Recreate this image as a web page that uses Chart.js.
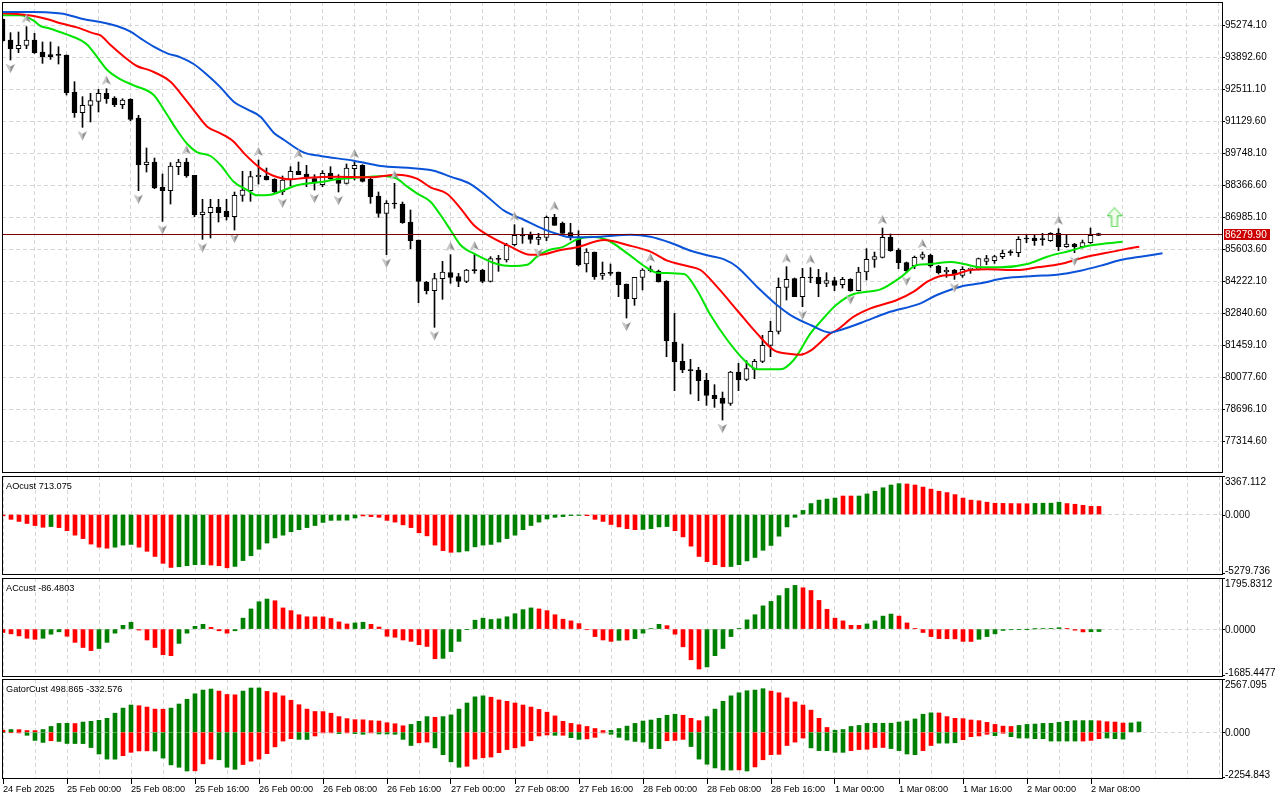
<!DOCTYPE html>
<html>
<head>
<meta charset="utf-8">
<title>BTCUSD H1 - Alligator / AO / AC / Gator</title>
<script src="https://cdn.jsdelivr.net/npm/chart.js@4.4.1/dist/chart.umd.min.js"></script>
<style>
  html, body { margin: 0; padding: 0; background: #fff; }
  #wrap { position: relative; width: 1280px; height: 800px; overflow: hidden; }
  canvas { position: absolute; left: 0; }
</style>
</head>
<body>
<div id="wrap">
  <canvas id="main" width="1280" height="474" style="top:0px"></canvas>
  <canvas id="ao" width="1280" height="102" style="top:474px"></canvas>
  <canvas id="ac" width="1280" height="102" style="top:576px"></canvas>
  <canvas id="gator" width="1280" height="122" style="top:678px"></canvas>
</div>
<script>
// ---- hourly candles, index 0 = 24 Feb 16:00 ----
const opens = [95531,94639,94265,94409,94639,94121,94006,94006,93992,92394,
  91502,91818,91991,92337,92135,91847,92077,91272,89257,89372,
  88278,88135,89170,89372,88796,87098,87185,87415,87242,87012,
  87933,88135,88739,88768,88624,88077,88595,88969,88854,88653,
  88394,88883,88653,88451,89084,89228,88624,87904,87156,87588,
  87559,86782,86005,84191,83817,84335,84594,84422,84220,84710,
  84710,84220,85199,85141,85803,86206,86206,86033,86120,86983,
  86724,86321,86033,84968,85486,84479,84594,84623,84105,83472,
  84393,84709,84652,84220,81601,80766,80392,80392,79960,79298,
  79183,78953,80306,79989,80421,80766,81457,82061,83961,84335,
  83558,84393,84393,84134,84249,84076,84306,83817,84623,85170,
  85256,86120,85573,85026,84882,85256,85342,84882,84623,84709,
  84479,84738,84738,85083,85112,85285,85501,85457,86062,86091,
  86033,85976,86292,85717,85832,85717,85889,86206];
const highs = [95574,94956,94984,95215,94927,94553,94553,94351,93992,92840,
  92193,92337,92509,92538,92193,92106,92106,91387,89976,89545,
  88854,89343,89487,89530,88796,87760,87760,87760,87760,88077,
  88969,88969,89458,89113,88652,88768,89171,89372,89228,88825,
  88998,89171,88825,89286,89372,89257,88739,88077,87703,88451,
  87645,87300,86005,84220,84566,85084,85372,84566,84738,85390,
  84738,85285,85343,85861,86667,86523,86350,86293,87040,87113,
  86782,86724,86407,85630,85486,85055,84968,84623,84105,84393,
  84767,84882,84709,84249,82838,81515,80852,80507,80248,79759,
  79442,80334,80680,80795,80852,81889,82493,84364,84853,84364,
  84780,84810,84738,84594,84393,84393,84335,84824,85630,85486,
  86522,86263,85630,85055,85314,85486,85400,84911,84824,84738,
  84853,84796,85227,85342,85342,85573,85573,86148,86206,86206,
  86292,86321,86494,86206,85860,86004,86522,86300];
const lows = [94560,93776,94092,94265,94060,93632,93804,93603,92265,91300,
  90869,91099,91531,91905,91761,91675,91156,88135,88940,88221,
  86810,87559,88825,88710,87012,86033,86091,86782,86868,86436,
  87674,87674,88422,88595,88040,87960,88336,88825,88307,88163,
  88307,88624,88077,88422,88595,88509,87588,86983,85372,87372,
  86724,85631,83299,83673,82234,83443,84134,83990,84163,84566,
  84163,84191,84652,85055,85746,85861,85861,85803,85976,86638,
  86292,86004,84882,84623,84306,84306,84479,83558,82637,83184,
  83846,84623,84191,80967,79500,80277,79356,79068,78866,78780,
  78233,78866,79500,79932,80018,80709,80967,81946,83414,83558,
  83126,84162,83558,83990,83817,83932,83788,83805,84278,84824,
  85227,85515,84767,84594,84767,85170,84824,84536,84393,84306,
  84393,84565,84709,84939,84997,85198,85342,85285,85889,85774,
  85774,85947,85544,85688,85457,85659,85860,86190];
const closes = [94610,94265,94409,94639,94092,93920,93920,93977,92365,91502,
  91818,92020,92337,92106,91847,92049,91214,89257,89372,88249,
  88135,89199,89372,88768,87098,87213,87415,87185,87012,87933,
  88163,88739,88796,88595,88077,88595,88969,88825,88710,88480,
  88883,88653,88451,89113,89228,88538,87876,87156,87588,87559,
  86753,85976,84220,83817,84335,84623,84393,84220,84710,84681,
  84220,85199,85170,85774,86206,86177,86033,86120,86983,86638,
  86292,86148,84939,85486,84421,84565,84565,84076,83472,84393,
  84709,84680,84191,81658,80737,80392,80363,79932,79298,79154,
  78953,80306,79960,80450,80766,81457,82061,83961,84306,83558,
  84393,84364,84105,84249,84047,84306,83817,84623,85170,85285,
  86120,85544,85026,84680,85256,85371,84882,84594,84709,84508,
  84738,84767,85198,85198,85285,85429,85457,86033,86048,85976,
  86019,86292,85717,85832,85717,85889,86206,86279.9];
const lastPrice = 86279.9;

// ---- alligator lines (jaw / teeth / lips), already shifted forward ----
const jawIdx = [0,3.9,7,8.1,10.2,12.25,14.3,16,17.25,18.9,20.6,22.25,23.9,25.6,27.25,28.9,30.6,32.25,33.9,35.2,
  37.7,39.75,43.9,47.25,51,53.9,56,58.5,60.6,62.7,65.2,67.7,69.75,71,74.75,78.5,81,83.5,86,88.5,
  90.2,91.8,94.3,96.8,98.5,101,103.5,104.75,107.7,110.6,114.75,116.8,119.75,122.25,125.2,128.9,131.8,134.75,137.7,139.75,
  142.25,145];
const jawVal = [95848,95848,95790,95733,95531,95416,95244,94999,94711,94351,94063,93891,93603,93128,92596,91977,91646,91329,90638,90322,
  89775,89631,89430,89200,89113,88998,88739,88422,87876,87271,86868,86465,86221,86120,86148,86235,86148,85889,85544,85314,
  85170,84853,83990,83198,82766,82335,82004,82119,82479,82867,83270,83630,83990,84134,84349,84450,84508,84680,84939,85141,
  85285,85429];
const teethIdx = [0,1.8,3.9,6,7.25,9.3,11.4,12.25,13.5,15.2,16.8,18.5,21,22.25,23.9,25.6,27.25,28.9,30.2,32.25,
  33.7,36,37.7,41.8,46,49.3,51.8,53.5,55.6,57.25,58.9,61,63.5,66,67.25,69.75,71.8,75.2,78.1,81,
  83.1,85.6,87.25,89.3,91.8,94.3,96.4,98.5,99.75,101,103.5,104.3,106.4,108.5,111.8,113.9,115.6,117.25,118.9,121,
  123.1,126.8,129.3,132.25,134.75,137.7,140.2,142.1];
const teethVal = [95790,95762,95675,95503,95359,95186,94927,94841,94423,93920,93517,93317,92840,92337,91617,90897,90610,90250,89746,89099,
  88800,88624,88681,88739,88710,88825,88653,88278,87991,87372,86652,86149,85717,85372,85372,85573,85688,86004,85789,85501,
  85112,84882,84709,83990,82982,81975,81255,81083,81054,81227,81975,82119,82694,83054,83414,83774,84205,84450,84508,84709,
  84738,84709,84824,84968,85213,85429,85601,85717];
const lipsIdx = [0,2.25,3.9,4.75,6,8.1,9.75,10.6,11.8,13.1,14.75,16.4,18.9,20.2,21.8,23.1,24.3,26,27.25,28.9,
  30.6,31.8,33.5,35.2,36.8,39.75,41.8,46,47.7,49.3,50.6,51.8,53.5,54.75,56,57.25,59.3,61.8,63.5,65.6,
  66.8,68.3,70,71.8,73.5,75.6,78.1,80.2,81.8,85.2,86.8,88.5,90.6,92.7,94.3,97.25,98.9,101,102.3,104.2,
  106.4,109.75,112.25,114.3,115.9,118.5,120.2,122.25,124.75,128.1,130.6,133.5,135.6,138.1,140];
const lipsVal = [95704,95704,95474,95244,95128,94869,94639,94438,93920,93344,92941,92682,92265,91617,90754,90149,89804,89631,89242,88523,
  88163,87933,87960,88163,88365,88509,88624,88739,88768,88653,88307,88019,87660,87084,86436,85789,85357,84969,84882,84940,
  85285,85573,85700,86033,86148,86004,85429,84882,84594,84536,83846,82766,81687,80824,80421,80421,80824,81975,82500,83198,
  83673,83874,84393,84925,84968,85055,84968,84824,84824,84968,85285,85544,85745,85860,85932];

// ---- fractals and signal ----
const fracUpIdx = [3,13,23,32,37,44,49,56,59,64,69,81,98,101,110,115,132];
const fracDnIdx = [1,10,17,20,25,29,35,39,42,48,54,67,78,90,100,106,113,119,134];
const signalIdx = [139];
const signalVal = [86985];

// ---- Awesome oscillator ----
const aoVals = [-120,-420,-600,-780,-960,-1110,-1050,-1140,-1410,-1800,
  -2100,-2580,-2850,-2940,-2850,-2670,-2610,-2850,-3210,-3660,
  -4260,-4620,-4560,-4470,-4380,-4370,-4410,-4470,-4650,-4530,
  -4020,-3600,-3030,-2490,-2040,-1800,-1500,-1320,-1140,-960,
  -690,-510,-500,-490,-300,-120,-180,-240,-510,-660,
  -900,-1140,-1590,-1860,-2670,-3150,-3300,-3270,-3180,-2820,
  -2670,-2610,-2400,-2100,-1800,-1320,-960,-660,-390,-240,
  -180,-90,-80,-100,-420,-600,-870,-1080,-1230,-1320,
  -1300,-1230,-1080,-1050,-1410,-1950,-2760,-3660,-4110,-4380,
  -4560,-4540,-4380,-4050,-3750,-3120,-2700,-1890,-1080,-240,
  360,960,1260,1350,1440,1620,1620,1620,1800,2040,
  2340,2580,2700,2670,2580,2400,2220,2040,1920,1740,
  1440,1260,1200,1080,990,975,960,950,945,975,
  990,995,1080,960,900,810,720,713.075];
const aoUp = [0,0,0,0,0,0,1,0,0,0, 0,0,0,0,1,1,1,0,0,0, 0,0,1,1,1,1,0,0,0,1, 1,1,1,1,1,1,1,1,1,1,
  1,1,1,1,1,0,0,0,0,0, 0,0,0,0,0,0,0,1,1,1, 1,1,1,1,1,1,1,1,1,1, 1,1,1,0,0,0,0,0,0,0,
  1,1,1,1,0,0,0,0,0,0, 0,1,1,1,1,1,1,1,1,1, 1,1,1,1,1,0,0,1,1,1, 1,1,1,0,0,0,0,0,0,0,
  0,0,0,0,0,0,0,0,0,1, 1,1,1,0,0,0,0,0];
const aoRange = [-5279.736, 3367.112];

// ---- Accelerator oscillator ----
const acVals = [-120,-168,-240,-324,-360,-324,-180,-96,-252,-468,
  -648,-756,-684,-468,-144,132,240,-36,-384,-648,
  -900,-936,-504,-144,96,168,60,-60,-144,-60,
  384,708,960,1056,996,744,648,504,432,430,
  428,372,252,180,216,240,168,72,-252,-288,
  -384,-432,-552,-612,-1044,-1030,-792,-432,-12,312,
  384,336,360,432,540,684,744,708,648,504,
  348,288,192,-24,-264,-384,-432,-396,-384,-336,
  -144,12,168,120,-180,-624,-1080,-1404,-1332,-936,
  -684,-264,24,324,504,816,972,1176,1428,1536,
  1452,1356,1008,696,384,288,132,130,180,288,
  456,528,456,216,24,-120,-264,-336,-340,-345,
  -432,-436,-360,-264,-168,-48,-24,-12,-5,5,
  12,24,48,24,-40,-100,-95,-86.4803];
const acUp = [0,0,0,0,0,1,1,1,0,0, 0,0,1,1,1,1,1,0,0,0, 0,0,1,1,1,1,0,0,0,1, 1,1,1,1,0,0,0,0,0,0,
  0,0,0,0,1,1,0,0,0,0, 0,0,0,0,0,1,1,1,1,1, 1,1,1,1,1,1,1,0,0,0, 0,0,0,0,0,0,0,1,0,1,
  1,1,1,0,0,0,0,0,1,1, 1,1,1,1,1,1,1,1,1,1, 0,0,0,0,0,0,0,0,1,1, 1,1,0,0,0,0,0,0,0,0,
  0,0,1,1,1,1,1,1,1,1, 1,1,1,0,0,0,1,1];
const acRange = [-1685.4477, 1795.8312];

// ---- Gator oscillator ----
const gatorUpper = [98,131,125,82,80,131,279,426,430,420,
  492,525,574,672,918,1164,1312,1279,1214,1115,
  1110,1164,1361,1591,1853,2034,2083,1984,1820,1804,
  1984,2132,2135,1968,1902,1755,1542,1328,1115,1000,
  995,918,754,656,607,600,558,541,459,410,
  312,377,525,754,722,754,836,1115,1410,1706,
  1755,1689,1558,1492,1410,1312,1214,1099,968,787,
  525,426,361,279,180,82,90,180,295,426,
  541,590,672,820,869,820,672,558,754,1115,
  1492,1755,1902,2001,2034,2099,1984,1902,1656,1460,
  1312,1066,672,230,98,131,279,328,426,430,
  433,436,492,541,640,869,935,930,754,672,
  656,590,558,476,377,295,279,328,377,394,
  426,430,476,525,558,560,562,550,508,492,
  443,450,498.865];
const gatorUpperUp = [0,1,0,0,0,1,1,1,1,0, 1,1,1,1,1,1,1,0,0,0, 0,1,1,1,1,1,1,0,0,0, 1,1,1,0,0,0,0,0,0,0,
  0,0,0,0,0,0,0,0,0,0, 0,1,1,1,0,1,1,1,1,1, 1,0,0,0,0,0,0,0,0,0, 0,0,0,0,0,0,1,1,1,1,
  1,1,1,1,1,0,0,0,1,1, 1,1,1,1,1,1,0,0,0,0, 0,0,0,0,1,1,1,1,1,1, 1,1,1,1,1,1,1,0,0,0,
  0,0,0,0,0,0,0,1,1,1, 1,1,1,1,1,1,1,0,0,0, 0,1,1];
const gatorLower = [-20,-16,-33,-148,-394,-492,-410,-443,-541,-545,
  -548,-738,-1050,-1296,-1300,-1132,-968,-902,-898,-905,
  -1246,-1574,-1689,-1870,-1860,-1525,-1296,-1328,-1689,-1788,
  -1558,-1394,-1296,-1033,-705,-426,-312,-344,-348,-180,
  -33,-30,-66,-33,-66,-98,-33,-82,-85,-98,
  -344,-640,-508,-476,-754,-1082,-1427,-1689,-1640,-1296,
  -1230,-1197,-984,-836,-754,-672,-410,-180,-131,-148,
  -145,-262,-344,-320,-246,-33,-98,-246,-377,-443,
  -476,-787,-790,-410,-394,-344,-689,-1296,-1542,-1722,
  -1820,-1825,-1815,-1870,-1673,-1328,-1082,-1066,-640,-476,
  -279,-754,-886,-890,-968,-970,-886,-836,-820,-738,
  -735,-787,-886,-1050,-1082,-886,-640,-525,-525,-508,
  -361,-213,-180,-98,-164,-49,-213,-279,-279,-312,
  -312,-426,-426,-426,-426,-426,-394,-312,-279,-312,
  -332.576];
const gatorLowerUp = [1,0,0,1,1,1,0,1,1,1, 1,1,1,1,1,0,0,0,0,1, 1,1,1,1,0,0,0,1,1,1, 0,0,0,0,0,0,0,1,1,0,
  0,0,1,0,1,1,0,1,1,1, 1,1,0,0,1,1,1,1,0,0, 0,0,0,0,0,0,0,0,0,1, 0,1,1,0,0,0,1,1,1,1,
  1,1,1,0,0,0,1,1,1,1, 1,1,0,1,0,0,0,0,0,0, 0,1,1,1,1,1,0,0,0,0, 0,1,1,1,1,0,0,1,1,1,
  0,0,0,0,1,0,1,1,1,1, 1,1,1,1,1,0,0,0,1,1, 1];
const gatorRange = [-2254.843, 2567.095];

// ---- axis labels ----
const priceTicks = [95274.10,93892.60,92511.10,91129.60,89748.10,88366.60,86985.10,85603.60,
  84222.10,82840.60,81459.10,80077.60,78696.10,77314.60];
const xLabelIdx = [0,8,16,24,32,40,48,56,64,72,80,88,96,104,112,120,128,136];
const xLabels = ['24 Feb 2025','25 Feb 00:00','25 Feb 08:00','25 Feb 16:00','26 Feb 00:00','26 Feb 08:00',
  '26 Feb 16:00','27 Feb 00:00','27 Feb 08:00','27 Feb 16:00','28 Feb 00:00','28 Feb 08:00',
  '28 Feb 16:00','1 Mar 00:00','1 Mar 08:00','1 Mar 16:00','2 Mar 00:00','2 Mar 08:00'];

// ==============================
// look & feel
// ==============================
const FONT = "'Liberation Sans', Arial, sans-serif";
const GRID = '#d6d6d6';
const DASH = [4, 3];
const UP = '#008000';
const DOWN = '#ff0000';
const SPAN = 1220 / 8;     // 8 px per candle across the plot width
const gridIdx = [];
for (let v = 0; v <= 152; v += 4) gridIdx.push(v);

Chart.defaults.font.family = FONT;
Chart.defaults.color = '#000';

const labelAt = v => {
  const k = xLabelIdx.indexOf(v);
  return k >= 0 ? xLabels[k] : null;
};

// arrow marks used as point styles (image is centred on the point)
function fractalImg(up) {
  const c = document.createElement('canvas');
  c.width = 11; c.height = 28;
  const g = c.getContext('2d');
  const cy = up ? 5.5 : 22.5, s = up ? 1 : -1;
  g.beginPath();
  g.moveTo(5.5, cy - 4.5 * s);
  g.lineTo(10, cy + 4.5 * s);
  g.lineTo(5.5, cy + 2 * s);
  g.lineTo(1, cy + 4.5 * s);
  g.closePath();
  g.fillStyle = '#8e8e8e';
  g.fill();
  g.beginPath();
  g.moveTo(5.5, cy - 4.5 * s);
  g.lineTo(5.5, cy + 2 * s);
  g.lineTo(1, cy + 4.5 * s);
  g.closePath();
  g.fillStyle = '#c9c9c9';
  g.fill();
  return c;
}
function signalImg() {
  const c = document.createElement('canvas');
  c.width = 16; c.height = 20;
  const g = c.getContext('2d');
  g.beginPath();
  g.moveTo(8, 0.5); g.lineTo(15.5, 8.5); g.lineTo(11, 8.5); g.lineTo(11, 19.5);
  g.lineTo(5, 19.5); g.lineTo(5, 8.5); g.lineTo(0.5, 8.5); g.closePath();
  g.fillStyle = '#effde9'; g.fill();
  g.strokeStyle = '#3fcf3f'; g.lineWidth = 1; g.stroke();
  return c;
}

// ==============================
// plugins: frame, titles, side labels, price line
// ==============================
const panelPlugin = {
  id: 'panel',
  afterDraw(chart, args, opts) {
    const { ctx, chartArea: a } = chart;
    ctx.save();
    ctx.strokeStyle = '#000';
    ctx.lineWidth = 1;
    ctx.strokeRect(a.left + 0.5, a.top + 0.5, a.right - a.left, a.bottom - a.top - 1);
    ctx.fillStyle = '#000';
    ctx.textAlign = 'left';
    ctx.textBaseline = 'alphabetic';
    if (opts.title) {
      ctx.font = '9.2px ' + FONT;
      ctx.fillText(opts.title, a.left + 4, a.top + 12.5);
    }
    if (opts.range) {
      const ys = chart.scales.y;
      const z = ys.getPixelForValue(0);
      ctx.font = '10px ' + FONT;
      const rows = [
        [opts.range[1], a.top + 0.5, a.top + 8.5],
        [0, Math.round(z) + 0.5, z + 3.6],
        [opts.range[0], a.bottom - 1.5, a.bottom - 1.5]
      ];
      rows.forEach(([v, ty, by]) => {
        ctx.beginPath();
        ctx.moveTo(a.right, ty);
        ctx.lineTo(a.right + 3, ty);
        ctx.stroke();
        ctx.fillText(v.toFixed(opts.decimals), a.right + 3, by);
      });
    }
    ctx.restore();
  }
};

const priceLinePlugin = {
  id: 'priceLine',
  afterDatasetsDraw(chart) {
    const { ctx, chartArea: a } = chart;
    const y = Math.round(chart.scales.y.getPixelForValue(lastPrice)) + 0.5;
    ctx.save();
    ctx.strokeStyle = '#7a0000';
    ctx.lineWidth = 1;
    ctx.beginPath();
    ctx.moveTo(a.left, y);
    ctx.lineTo(a.right, y);
    ctx.stroke();
    ctx.restore();
  },
  afterDraw(chart) {
    const { ctx, chartArea: a } = chart;
    const y = Math.round(chart.scales.y.getPixelForValue(lastPrice));
    ctx.save();
    ctx.fillStyle = '#cc0000';
    ctx.fillRect(a.right + 2, y - 5, 46, 11);
    ctx.fillStyle = '#fff';
    ctx.font = '10px ' + FONT;
    ctx.textBaseline = 'alphabetic';
    ctx.fillText(lastPrice.toFixed(2), a.right + 3, y + 4);
    ctx.restore();
  }
};

// ==============================
// shared scale builders
// ==============================
function xScale(showLabels, shift) {
  return {
    type: 'linear',
    min: shift,
    max: shift + SPAN,
    offset: false,
    afterBuildTicks: s => { s.ticks = gridIdx.map(v => ({ value: v })); },
    afterFit: s => {
      s.height = showLabels ? 21 : 0;
      s.paddingLeft = 0; s.paddingRight = 0;
    },
    grid: {
      color: GRID, offset: false, drawTicks: showLabels, tickLength: 5,
      tickColor: c => (c.tick && labelAt(c.tick.value)) ? '#000' : 'rgba(0,0,0,0)'
    },
    border: { display: false, dash: DASH },
    ticks: {
      display: showLabels, autoSkip: false, maxRotation: 0, align: 'start', padding: 0,
      font: { size: 9.2 }, color: '#000',
      callback: v => labelAt(v) || ''
    }
  };
}

function oscScale(range) {
  return {
    position: 'right',
    min: range[0],
    max: range[1],
    afterBuildTicks: s => { s.ticks = [{ value: 0 }]; },
    afterFit: s => { s.width = 58; s.paddingTop = 0; s.paddingBottom = 0; },
    grid: { color: GRID, drawTicks: false },
    border: { display: false, dash: DASH },
    ticks: { display: false }
  };
}

const common = {
  responsive: false,
  animation: false,
  devicePixelRatio: 1,
  events: [],
  plugins: { legend: { display: false }, tooltip: { enabled: false } }
};

// ==============================
// main price panel
// ==============================
const idx = closes.map((c, i) => i);
const toPts = (xs, ys) => xs.map((x, i) => ({ x: x, y: ys[i] }));
const line = (xs, ys, color) => ({
  type: 'line', data: toPts(xs, ys), borderColor: color, borderWidth: 2,
  pointRadius: 0, cubicInterpolationMode: 'monotone', order: 1
});

new Chart(document.getElementById('main'), {
  type: 'bar',
  data: {
    datasets: [
      {
        data: idx.map(i => ({ x: i, y: [lows[i], highs[i]] })),
        backgroundColor: '#000', barThickness: 1, grouped: false, order: 3
      },
      {
        data: idx.map(i => ({ x: i, y: [opens[i], closes[i]] })),
        backgroundColor: idx.map(i => closes[i] >= opens[i] ? '#fff' : '#000'),
        borderColor: '#000', borderWidth: 1, borderSkipped: false,
        barThickness: 5, minBarLength: 1, grouped: false, order: 2
      },
      line(jawIdx, jawVal, '#0a52d8'),
      line(teethIdx, teethVal, '#ff0000'),
      line(lipsIdx, lipsVal, '#00e400'),
      {
        type: 'line', showLine: false, order: 0,
        data: fracUpIdx.map(i => ({ x: i, y: highs[i] })),
        pointStyle: fractalImg(true), pointRadius: 5
      },
      {
        type: 'line', showLine: false, order: 0,
        data: fracDnIdx.map(i => ({ x: i, y: lows[i] })),
        pointStyle: fractalImg(false), pointRadius: 5
      },
      {
        type: 'line', showLine: false, order: 0,
        data: toPts(signalIdx, signalVal),
        pointStyle: signalImg(), pointRadius: 8
      }
    ]
  },
  options: Object.assign({}, common, {
    layout: { autoPadding: false, padding: { left: 2, right: 0, top: 2, bottom: 1 } },
    scales: {
      x: xScale(false, -0.0625),
      y: {
        position: 'right',
        min: 75946, max: 96280,
        afterBuildTicks: s => { s.ticks = priceTicks.map(v => ({ value: v })); },
        afterFit: s => { s.width = 58; s.paddingTop = 0; s.paddingBottom = 0; },
        grid: { color: GRID, tickLength: 3, tickColor: '#000' },
        border: { display: false, dash: DASH },
        ticks: { padding: 0, font: { size: 10 }, color: '#000', callback: v => v.toFixed(2) }
      }
    },
    plugins: Object.assign({}, common.plugins, { panel: {} })
  }),
  plugins: [panelPlugin, priceLinePlugin]
});

// ==============================
// oscillator panels
// ==============================
function histo(vals, ups) {
  return {
    data: vals.map((v, i) => ({ x: i, y: v })),
    backgroundColor: ups.map(u => u ? UP : DOWN),
    barThickness: 4, grouped: false
  };
}

function oscChart(id, datasets, range, decimals, title, showX) {
  return new Chart(document.getElementById(id), {
    type: 'bar',
    data: { datasets: datasets },
    options: Object.assign({}, common, {
      layout: { autoPadding: false, padding: { left: 2, right: 0, top: showX ? 1 : 2, bottom: showX ? 0 : 1 } },
      scales: { x: xScale(showX, -0.125), y: oscScale(range) },
      plugins: Object.assign({}, common.plugins, {
        panel: { title: title, range: range, decimals: decimals }
      })
    }),
    plugins: [panelPlugin]
  });
}

oscChart('ao', [histo(aoVals, aoUp)], aoRange, 3, 'AOcust 713.075', false);
oscChart('ac', [histo(acVals, acUp)], acRange, 4, 'ACcust -86.4803', false);
oscChart('gator', [histo(gatorUpper, gatorUpperUp), histo(gatorLower, gatorLowerUp)],
  gatorRange, 3, 'GatorCust 498.865 -332.576', true);
</script>
</body>
</html>
